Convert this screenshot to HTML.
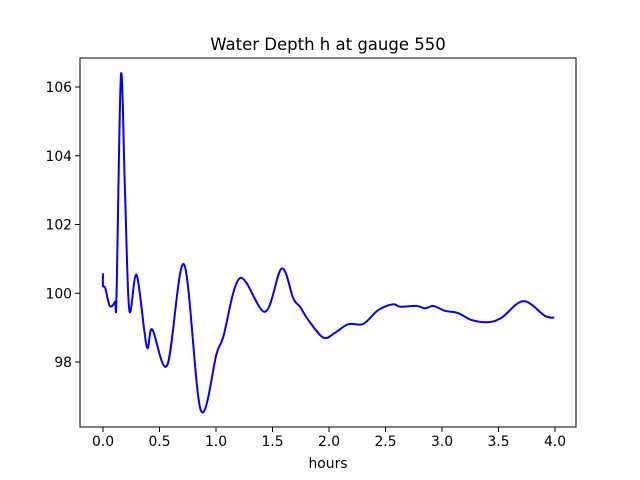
<!DOCTYPE html>
<html><head><meta charset="utf-8"><style>
body{margin:0;background:#fff}
svg{display:block;font-family:"DejaVu Sans","Liberation Sans",sans-serif}
</style></head><body>
<svg id="chart" width="640" height="480">
<rect width="640" height="480" fill="#fff"/>
<text x="328" y="50" text-anchor="middle" font-size="16.5">Water Depth h at gauge 550</text>
<text x="328" y="468" text-anchor="middle" font-size="13.9">hours</text>
<g id="xt"></g>
<g id="yt"></g>
<path id="line" fill="none" stroke="#0000ff" stroke-width="2" stroke-linejoin="round"/>
<rect x="80" y="58" width="496" height="369" fill="none" stroke="#000" stroke-width="1"/>
</svg>
<script>
const hours=[0,0,0.02,0.06,0.106,0.12,0.159,0.195,0.233,0.298,0.387,0.436,0.569,0.717,0.865,1.006,1.065,1.212,1.434,1.581,1.684,1.743,1.817,1.95,2.053,2.171,2.304,2.436,2.569,2.628,2.776,2.85,2.923,3.027,3.144,3.263,3.41,3.528,3.72,3.912,3.994];
const depth=[100.58,100.22,100.15,99.63,99.75,99.99,106.35,102.92,99.51,100.53,98.45,98.95,97.91,100.84,96.60,98.25,98.74,100.44,99.46,100.72,99.85,99.61,99.22,98.71,98.85,99.10,99.11,99.51,99.68,99.61,99.63,99.56,99.63,99.49,99.42,99.22,99.16,99.29,99.77,99.34,99.29];
const xTicks=[0,0.5,1,1.5,2,2.5,3,3.5,4];
const yTicks=[98,100,102,104,106];
const X=t=>103+t*113, Y=v=>362-(v-98)*34.375;
const NS="http://www.w3.org/2000/svg";
const xt=document.getElementById('xt'), yt=document.getElementById('yt');
xTicks.forEach(t=>{
 const l=document.createElementNS(NS,'line');
 
 
 l.setAttribute('x1',X(t));l.setAttribute('x2',X(t));l.setAttribute('y1',427);l.setAttribute('y2',432);l.setAttribute('stroke','#000');
 xt.appendChild(l);
 const s=document.createElementNS(NS,'text');
 
 
 s.setAttribute('x',X(t));s.setAttribute('y',446);s.setAttribute('text-anchor','middle');s.setAttribute('font-size','13.9');
 s.textContent=t.toFixed(1);xt.appendChild(s);
});
yTicks.forEach(v=>{
 const l=document.createElementNS(NS,'line');
 
 
 l.setAttribute('x1',75);l.setAttribute('x2',80);l.setAttribute('y1',Y(v));l.setAttribute('y2',Y(v));l.setAttribute('stroke','#000');
 yt.appendChild(l);
 const s=document.createElementNS(NS,'text');
 
 
 s.setAttribute('x',72);s.setAttribute('y',Y(v)+5);s.setAttribute('text-anchor','end');s.setAttribute('font-size','13.9');
 s.textContent=v;yt.appendChild(s);
});
const P=hours.map((t,i)=>[X(t),Y(depth[i])]);
let d='M'+P[0][0]+','+P[0][1];
for(let i=0;i<P.length-1;i++){
 const p0=P[i-1]||P[i],p1=P[i],p2=P[i+1],p3=P[i+2]||p2;
 const c1=[p1[0]+(p2[0]-p0[0])/6,p1[1]+(p2[1]-p0[1])/6];
 const c2=[p2[0]-(p3[0]-p1[0])/6,p2[1]-(p3[1]-p1[1])/6];
 d+=' C'+c1+' '+c2+' '+p2;
}
document.getElementById('line').setAttribute('d',d);
</script>
</body></html>
